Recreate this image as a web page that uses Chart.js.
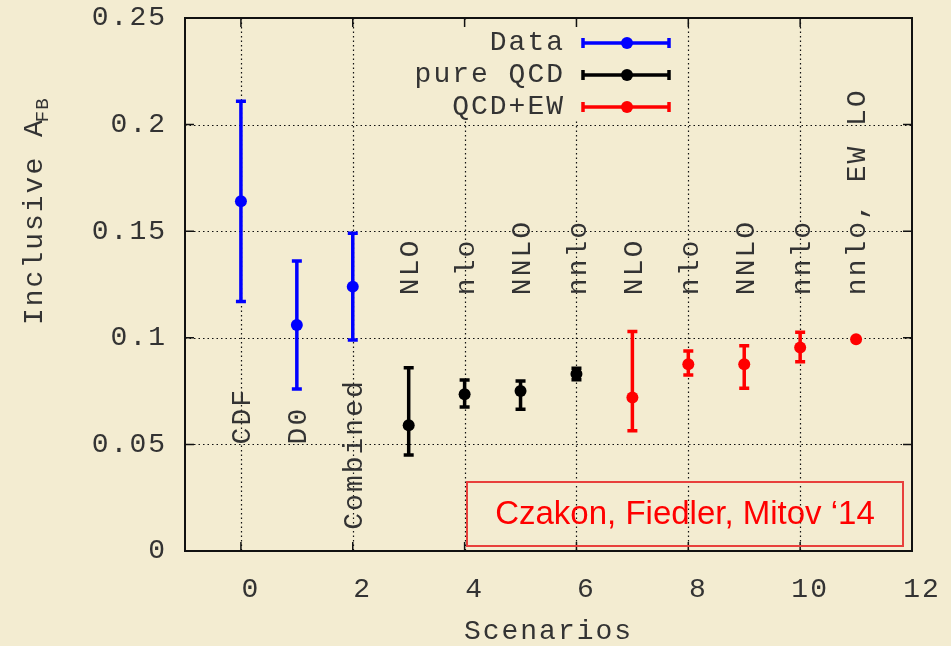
<!DOCTYPE html>
<html>
<head>
<meta charset="utf-8">
<title>Inclusive AFB</title>
<script src="https://cdn.jsdelivr.net/npm/chart.js@4.4.1/dist/chart.umd.min.js"></script>
<style>
  html, body { margin: 0; padding: 0; background: #f3ecd1; }
  #wrap { width: 951px; height: 646px; }
</style>
</head>
<body>
<div id="wrap"><canvas id="afbChart" width="951" height="646"></canvas></div>
<script>
// ---- data ----
const dataX = [0, 1, 2];
const dataY = [0.164, 0.106, 0.124];
const dataLo = [0.117, 0.076, 0.099];
const dataHi = [0.211, 0.136, 0.149];

const qcdX = [3, 4, 5, 6];
const qcdY = [0.059, 0.0735, 0.075, 0.083];
const qcdLo = [0.045, 0.0675, 0.0665, 0.0803];
const qcdHi = [0.086, 0.0802, 0.0797, 0.0857];

const ewX = [7, 8, 9, 10, 11];
const ewY = [0.072, 0.0876, 0.0876, 0.0954, 0.0993];
const ewLo = [0.0564, 0.0826, 0.0763, 0.0888, 0.0993];
const ewHi = [0.1029, 0.0938, 0.0963, 0.1026, 0.0993];

// scenario names written vertically in the plot
const lowLabels = ['CDF', 'D0', 'Combined'];
const lowLabelX = [0, 1, 2];
const lowLabelY = [0.05, 0.05, 0.01];
const topLabels = ['NLO', 'nlo', 'NNLO', 'nnlo', 'NLO', 'nlo', 'NNLO', 'nnlo', 'nnlo, EW LO'];
const topLabelX = [3, 4, 5, 6, 7, 8, 9, 10, 11];
const topLabelY = 0.12;

const xTicks = [0, 2, 4, 6, 8, 10, 12];
const yTicks = [0, 0.05, 0.1, 0.15, 0.2, 0.25];

const MONO = '"Liberation Mono", "DejaVu Sans Mono", monospace';
const INK = '#333';
const BG = '#f3ecd1';

const seriesList = [
    { label: 'Data', color: '#0000ff', xs: dataX, ys: dataY, lo: dataLo, hi: dataHi },
    { label: 'pure QCD', color: '#000000', xs: qcdX, ys: qcdY, lo: qcdLo, hi: qcdHi },
    { label: 'QCD+EW', color: '#ff0000', xs: ewX, ys: ewY, lo: ewLo, hi: ewHi }
];

function toPoints(xs, ys) {
    return xs.map((x, i) => ({ x: x, y: ys[i] }));
}

// background + gnuplot-ish letter spacing
const pagePlugin = {
    id: 'page',
    beforeDraw(chart) {
        const ctx = chart.ctx;
        ctx.save();
        ctx.fillStyle = BG;
        ctx.fillRect(0, 0, chart.width, chart.height);
        ctx.restore();
        ctx.letterSpacing = '2px';
    }
};

// dotted grid, key box, inward ticks and frame
const framePlugin = {
    id: 'frame',
    beforeDatasetsDraw(chart) {
        const { ctx, chartArea: a, scales: { x, y } } = chart;
        ctx.save();
        ctx.strokeStyle = '#111';
        ctx.lineWidth = 1.2;
        ctx.setLineDash([1.5, 3]);
        ctx.beginPath();
        xTicks.forEach(v => {
            const px = Math.round(x.getPixelForValue(v)) + 0.5;
            if (px <= a.left + 2 || px >= a.right - 2) return;
            ctx.moveTo(px, a.top); ctx.lineTo(px, a.bottom);
        });
        yTicks.forEach(v => {
            const py = Math.round(y.getPixelForValue(v)) + 0.5;
            if (py <= a.top + 2 || py >= a.bottom - 2) return;
            ctx.moveTo(a.left, py); ctx.lineTo(a.right, py);
        });
        ctx.stroke();
        ctx.setLineDash([]);

        // key area hides the grid
        ctx.fillStyle = BG;
        ctx.fillRect(402, 22, 280, 98);

        // ticks pointing inward, all four sides
        ctx.strokeStyle = '#111';
        ctx.lineWidth = 1.5;
        ctx.beginPath();
        xTicks.forEach(v => {
            const px = x.getPixelForValue(v);
            ctx.moveTo(px, a.bottom); ctx.lineTo(px, a.bottom - 9);
            ctx.moveTo(px, a.top); ctx.lineTo(px, a.top + 9);
        });
        yTicks.forEach(v => {
            const py = y.getPixelForValue(v);
            ctx.moveTo(a.left, py); ctx.lineTo(a.left + 9, py);
            ctx.moveTo(a.right, py); ctx.lineTo(a.right - 9, py);
        });
        ctx.stroke();

        ctx.lineWidth = 2;
        ctx.strokeRect(a.left, a.top, a.right - a.left, a.bottom - a.top);
        ctx.restore();
    }
};

// vertical error bars with caps
const errorBarPlugin = {
    id: 'errorBars',
    beforeDatasetsDraw(chart) {
        const { ctx, scales: { x, y } } = chart;
        ctx.save();
        ctx.lineWidth = 3.5;
        seriesList.forEach(s => {
            ctx.strokeStyle = s.color;
            s.xs.forEach((xv, i) => {
                if (s.hi[i] === s.lo[i]) return;
                const px = x.getPixelForValue(xv);
                const top = y.getPixelForValue(s.hi[i]);
                const bot = y.getPixelForValue(s.lo[i]);
                ctx.beginPath();
                ctx.moveTo(px, top); ctx.lineTo(px, bot);
                ctx.moveTo(px - 5, top); ctx.lineTo(px + 5, top);
                ctx.moveTo(px - 5, bot); ctx.lineTo(px + 5, bot);
                ctx.stroke();
            });
        });
        ctx.restore();
    }
};

// rotated scenario names, key, y title, citation box
const textPlugin = {
    id: 'texts',
    afterDraw(chart) {
        const { ctx, scales: { x, y } } = chart;
        ctx.save();
        ctx.fillStyle = INK;
        ctx.font = '28px ' + MONO;
        ctx.textAlign = 'left';
        ctx.textBaseline = 'middle';

        function vText(txt, px, py) {
            ctx.save();
            ctx.translate(px, py);
            ctx.rotate(-Math.PI / 2);
            ctx.fillText(txt, 0, 0);
            ctx.restore();
        }
        lowLabels.forEach((t, i) => vText(t, x.getPixelForValue(lowLabelX[i]) + 2, y.getPixelForValue(lowLabelY[i])));
        topLabels.forEach((t, i) => vText(t, x.getPixelForValue(topLabelX[i]) + 2, y.getPixelForValue(topLabelY)));

        // key
        const rowY = [43, 75, 107];
        seriesList.forEach((s, i) => {
            const ry = rowY[i];
            ctx.fillStyle = INK;
            ctx.textAlign = 'right';
            ctx.fillText(s.label, 565, ry);
            ctx.strokeStyle = s.color;
            ctx.lineWidth = 3.5;
            ctx.beginPath();
            ctx.moveTo(582, ry); ctx.lineTo(670, ry);
            ctx.moveTo(583, ry - 5); ctx.lineTo(583, ry + 5);
            ctx.moveTo(669, ry - 5); ctx.lineTo(669, ry + 5);
            ctx.stroke();
            ctx.fillStyle = s.color;
            ctx.beginPath();
            ctx.arc(627, ry, 6, 0, Math.PI * 2);
            ctx.fill();
        });

        // y axis title with subscript
        ctx.save();
        ctx.fillStyle = INK;
        ctx.translate(35, 325);
        ctx.rotate(-Math.PI / 2);
        ctx.textAlign = 'left';
        ctx.font = '28px ' + MONO;
        const main = 'Inclusive A';
        ctx.fillText(main, 0, 0);
        const w = ctx.measureText(main).width;
        ctx.font = '19px ' + MONO;
        ctx.letterSpacing = '1px';
        ctx.fillText('FB', w - 4, 8);
        ctx.restore();

        // citation box
        ctx.letterSpacing = '0px';
        ctx.strokeStyle = '#e8403c';
        ctx.lineWidth = 2;
        ctx.strokeRect(467, 482, 436, 64);
        ctx.fillStyle = '#ff0000';
        ctx.font = '33px "Liberation Sans", Arial, sans-serif';
        ctx.textAlign = 'center';
        ctx.fillText('Czakon, Fiedler, Mitov \u201814', 685, 515);
        ctx.restore();
    }
};

const chart = new Chart(document.getElementById('afbChart').getContext('2d'), {
    type: 'scatter',
    data: {
        datasets: seriesList.map(s => ({
            label: s.label,
            data: toPoints(s.xs, s.ys),
            backgroundColor: s.color,
            borderColor: s.color,
            borderWidth: 0,
            pointRadius: 6,
            pointHoverRadius: 6,
            showLine: false
        }))
    },
    options: {
        responsive: false,
        animation: false,
        events: [],
        layout: { padding: { top: 18, right: 39, left: 0, bottom: 0 } },
        plugins: {
            legend: { display: false },
            tooltip: { enabled: false }
        },
        scales: {
            x: {
                type: 'linear',
                min: -1,
                max: 12,
                grid: { display: false },
                border: { display: false },
                afterBuildTicks: s => { s.ticks = xTicks.map(v => ({ value: v })); },
                afterFit: s => { s.height = 95; s.paddingLeft = 0; s.paddingRight = 0; },
                ticks: {
                    color: INK,
                    font: { family: MONO, size: 28 },
                    padding: 14,
                    labelOffset: 10,
                    maxRotation: 0,
                    callback: v => String(v)
                },
                title: {
                    display: true,
                    text: 'Scenarios',
                    color: INK,
                    font: { family: MONO, size: 28, lineHeight: 1 },
                    padding: { top: 0, bottom: 0 }
                }
            },
            y: {
                min: 0,
                max: 0.25,
                grid: { display: false },
                border: { display: false },
                afterBuildTicks: s => { s.ticks = yTicks.map(v => ({ value: v })); },
                afterFit: s => { s.width = 185; s.paddingTop = 0; s.paddingBottom = 0; },
                ticks: {
                    color: INK,
                    font: { family: MONO, size: 28 },
                    padding: 10,
                    callback: v => String(+v.toFixed(2))
                }
            }
        }
    },
    plugins: [pagePlugin, framePlugin, errorBarPlugin, textPlugin]
});
</script>
</body>
</html>
